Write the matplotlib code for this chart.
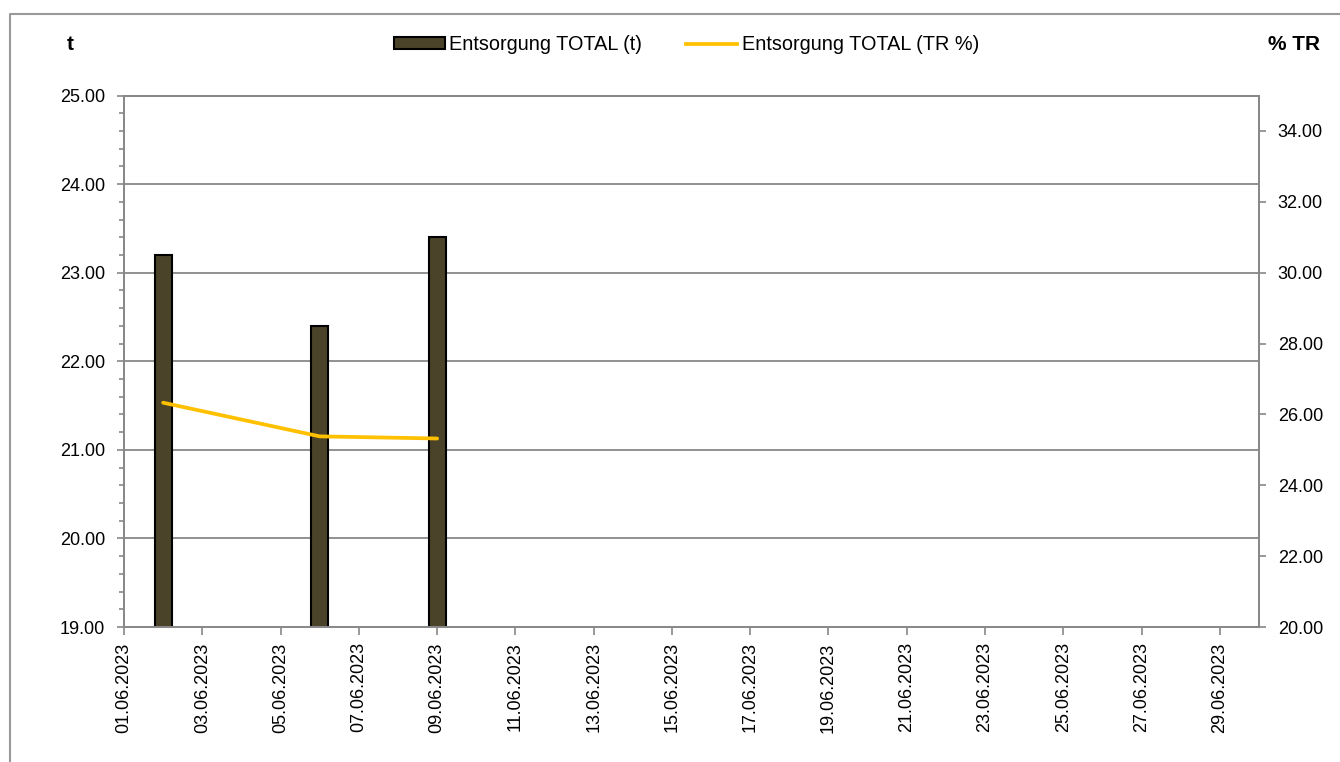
import matplotlib
matplotlib.use("Agg")
import matplotlib.pyplot as plt
from matplotlib.lines import Line2D
from matplotlib.patches import Patch
import datetime as dt

plt.rcParams['font.family'] = ['Liberation Sans', 'DejaVu Sans']

# ---- data ----
dates = ["02.06.2023", "06.06.2023", "09.06.2023"]
tonnage = [23.2, 22.4, 23.4]          # Entsorgung TOTAL (t)
tr_percent = [26.33, 25.38, 25.32]    # Entsorgung TOTAL (TR %)
x_start = "01.06.2023"
x_end = "30.06.2023"
tick_dates = ["%02d.06.2023" % d for d in range(1, 30, 2)]
left_ticks = [19, 20, 21, 22, 23, 24, 25]
right_ticks = [20, 22, 24, 26, 28, 30, 32, 34]

series_bar_label = "Entsorgung TOTAL (t)"
series_line_label = "Entsorgung TOTAL (TR %)"

def pd_(s):
    return dt.datetime.strptime(s, "%d.%m.%Y")

xd = [pd_(s) for s in dates]
td = [pd_(s) for s in tick_dates]

W, H = 1340, 762
fig = plt.figure(figsize=(W / 100, H / 100), dpi=100)
ax = fig.add_axes([124 / W, 1 - 627 / H, (1259 - 124) / W, (627 - 95.5) / H])
ax2 = ax.twinx()

grey = '#888888'
bar_color = '#4A4329'
line_color = '#FFC000'

ax.set_ylim(19, 25)
ax.set_xlim(pd_(x_start), pd_(x_end))
ax2.set_ylim(20, 35)

for y in left_ticks[1:-1]:
    ax.axhline(y, color=grey, lw=1.3, zorder=0)

ax.bar(xd, tonnage, width=0.43, bottom=0, color=bar_color, edgecolor='black',
       linewidth=1.5, zorder=2)
ax2.plot(xd, tr_percent, color=line_color, lw=2.7, solid_capstyle='round', zorder=3)

ax.set_yticks(left_ticks)
ax.set_yticklabels(["%.2f" % v for v in left_ticks])
ax.set_yticks([v / 5 for v in range(95, 126)], minor=True)
ax2.set_yticks(right_ticks)
ax2.set_yticklabels(["%.2f" % v for v in right_ticks])
ax.set_xticks(td)
ax.set_xticklabels(tick_dates, rotation=90)

for a in (ax, ax2):
    for s in a.spines.values():
        s.set_color(grey)
        s.set_linewidth(1.3)
ax.tick_params(axis='y', which='major', direction='out', length=5, width=1.2,
               color=grey, pad=8.5, labelsize=13)
ax.tick_params(axis='y', which='minor', direction='out', length=3.5, width=1.2, color=grey)
ax.tick_params(axis='x', which='major', direction='out', length=6, width=1.2,
               color=grey, pad=5, labelsize=13)
ax.tick_params(axis='x', which='minor', length=0)
ax2.tick_params(axis='y', which='major', direction='out', length=5, width=1.2,
                color=grey, pad=8.5, labelsize=13)
ax2.tick_params(axis='y', which='minor', length=0)

fig.text(70 / W, 1 - 45 / H, "t", fontsize=15, fontweight='bold', ha='center', va='center')
fig.text(1294 / W, 1 - 45 / H, "% TR", fontsize=15, fontweight='bold', ha='center', va='center')

handles = [Patch(facecolor=bar_color, edgecolor='black', linewidth=1.5),
           Line2D([0], [0], color=line_color, lw=2.7)]
fig.legend(handles, [series_bar_label, series_line_label], loc='center',
           bbox_to_anchor=(686.5 / W, 1 - 45 / H), ncol=2, frameon=False,
           fontsize=14.3, handlelength=2.56, handleheight=0.55, handletextpad=0.25,
           columnspacing=2.2)

# outer chart frame
fig.add_artist(Line2D([10 / W, 10 / W, 1.01], [-0.01, 1 - 14 / H, 1 - 14 / H],
                      transform=fig.transFigure, color='#999999', lw=1.5))

fig.savefig("out.png", dpi=100)
